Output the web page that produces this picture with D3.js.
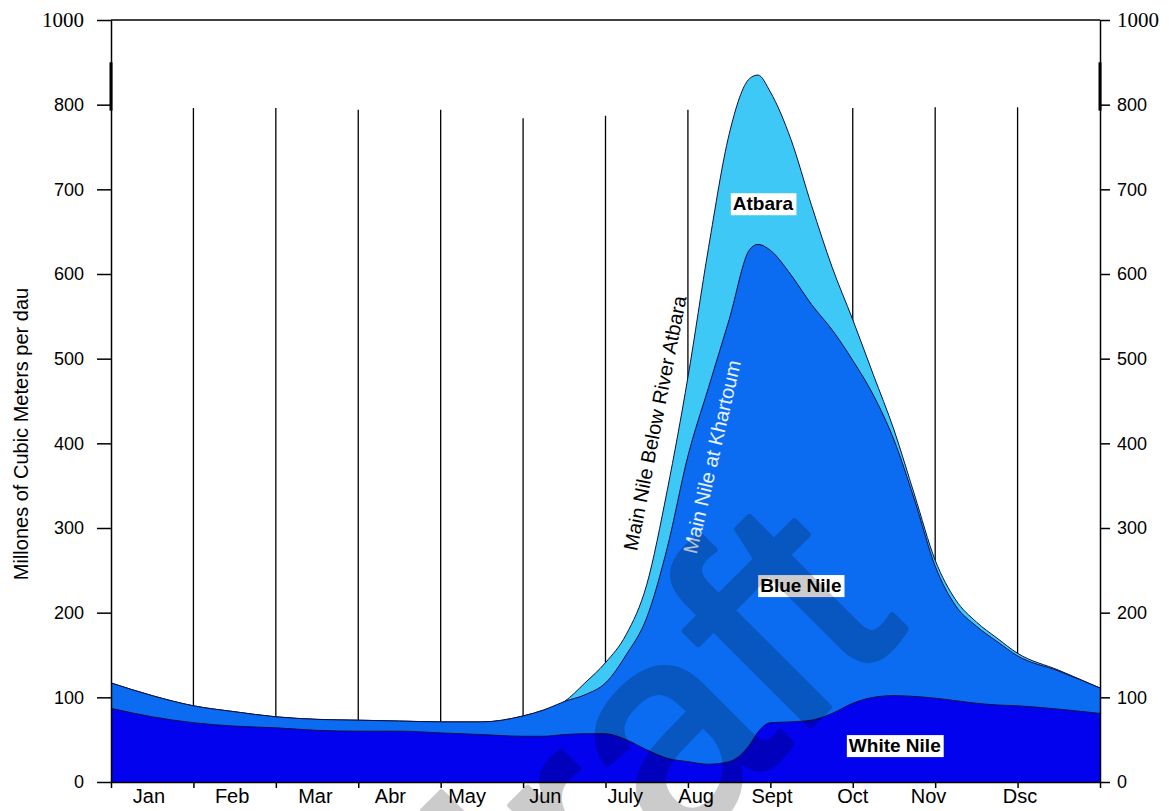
<!DOCTYPE html>
<html>
<head>
<meta charset="utf-8">
<script src="https://cdn.jsdelivr.net/npm/d3@7"></script>
<style>
  body { margin: 0; background: #fff; }
  svg { display: block; font-family: Arial, "Liberation Sans", sans-serif; }
  .serif { font-family: "Liberation Serif", "Times New Roman", serif !important; font-size: 21px !important; }
</style>
</head>
<body>
<svg id="chart"></svg>
<script>
// month names as printed on the chart (spelling kept)
const monthNames = ["Jan", "Feb", "Mar", "Abr", "May", "Jun", "July", "Aug", "Sept", "Oct", "Nov", "Dsc"];
// where each month name sits, in months from 1 Jan
const monthLabelAt = [0.46, 1.47, 2.48, 3.39, 4.32, 5.27, 6.24, 7.10, 8.02, 9.0, 9.92, 11.03];
// top of the vertical month lines (value units)
const gridTop = [796, 796, 794, 794, 784, 787, 794, 794, 796, 797, 797];

// flow, millions of m3 per day
const flowMonth = [0, 0.5, 1, 1.5, 2, 2.5, 3, 3.5, 4, 4.5, 5, 5.25, 5.5, 5.75, 6, 6.25, 6.5, 6.75, 7, 7.25, 7.5, 7.75, 7.85, 8, 8.25, 8.5, 8.75, 9, 9.25, 9.5, 9.75, 10, 10.25, 10.5, 10.75, 11, 11.5, 12];
const belowAtbara = [117, 102, 90, 83, 77, 74, 73, 72, 71, 71, 78, 85, 95, 117, 141, 174, 233, 345, 478, 631, 765, 831, 835, 815, 759, 681, 608, 546, 481, 416, 339, 262, 215, 189, 170, 152, 132, 111];
const atKhartoum = [117, 102, 90, 83, 77, 74, 73, 72, 71, 71, 78, 85, 95, 103, 117, 150, 194, 277, 385, 466, 546, 629, 635, 628, 599, 564, 534, 498, 457, 404, 333, 255, 208, 184, 166, 149, 131, 111];
const whiteNile = [87, 77, 70, 66, 64, 61, 60, 60, 58, 56, 54, 54, 56, 57, 57, 50, 38, 28, 24, 21, 24, 44, 59, 70, 71, 73, 81, 93, 100, 102, 101, 99, 96, 93, 91, 90, 86, 81];

// y ticks: the top line carries the label "1000"
const yTickValues = [0, 100, 200, 300, 400, 500, 600, 700, 800, 900];
const yTickLabels = ["0", "100", "200", "300", "400", "500", "600", "700", "800", "1000"];

const width = 1169;
const height = 811;

const svg = d3.select("#chart")
    .attr("width", width)
    .attr("height", height);

const x = d3.scaleLinear().domain([0, 12]).range([111, 1100]);
const y = d3.scaleLinear().domain([0, 900]).range([782, 20]);

// vertical month lines (behind the flows)
svg.append("g")
    .selectAll("line")
    .data(gridTop)
    .enter().append("line")
    .attr("x1", (d, i) => x(i + 1))
    .attr("x2", (d, i) => x(i + 1))
    .attr("y1", d => y(d))
    .attr("y2", y(0))
    .attr("stroke", "#000")
    .attr("stroke-width", 1.3);

const area = d3.area()
    .x((d, i) => x(flowMonth[i]))
    .y0(y(0))
    .y1(d => y(d))
    .curve(d3.curveMonotoneX);

const topLine = d3.line()
    .x((d, i) => x(flowMonth[i]))
    .y(d => y(d))
    .curve(d3.curveMonotoneX);

const layers = [
    { values: belowAtbara, fill: "#3ec8f6" },
    { values: atKhartoum, fill: "#0b6cf2" },
    { values: whiteNile, fill: "#0202ee" }
];

layers.forEach(l => {
    svg.append("path")
        .datum(l.values)
        .attr("d", area)
        .attr("fill", l.fill);
    svg.append("path")
        .datum(l.values)
        .attr("d", topLine)
        .attr("fill", "none")
        .attr("stroke", "#101040")
        .attr("stroke-width", 1);
});

// axes
const axisLeft = d3.axisLeft(y)
    .tickValues(yTickValues)
    .tickFormat((d, i) => yTickLabels[i])
    .tickSize(14)
    .tickSizeOuter(0)
    .tickPadding(13);

const gL = svg.append("g")
    .attr("transform", `translate(${x(0)},0)`)
    .call(axisLeft);

const axisRight = d3.axisRight(y)
    .tickValues(yTickValues)
    .tickFormat((d, i) => yTickLabels[i])
    .tickSize(10)
    .tickSizeOuter(0)
    .tickPadding(7);

const gR = svg.append("g")
    .attr("transform", `translate(${x(12)},0)`)
    .call(axisRight);

[gL, gR].forEach(g => {
    g.attr("font-family", null).attr("font-size", null);
    g.selectAll("path, line").attr("stroke", "#000").attr("stroke-width", 1.5);
    g.selectAll("text")
        .attr("fill", "#000")
        .style("font-size", "18px");
    g.selectAll("text")
        .filter((d, i, nodes) => i === nodes.length - 1)
        .attr("class", "serif");
});

// heavier stroke on the upper part of both side axes
[x(0), x(12)].forEach(px => {
    svg.append("line")
        .attr("x1", px).attr("x2", px)
        .attr("y1", y(850)).attr("y2", y(793))
        .attr("stroke", "#000")
        .attr("stroke-width", 3);
});

// top line
svg.append("line")
    .attr("x1", x(0)).attr("x2", x(12))
    .attr("y1", y(900)).attr("y2", y(900))
    .attr("stroke", "#000")
    .attr("stroke-width", 1.5);

const axisBottom = d3.axisBottom(x)
    .tickValues(d3.range(0, 13))
    .tickFormat("")
    .tickSize(6)
    .tickSizeOuter(0);

const gB = svg.append("g")
    .attr("transform", `translate(0,${y(0)})`)
    .call(axisBottom);
gB.selectAll("path, line").attr("stroke", "#000").attr("stroke-width", 1.5);

svg.append("g")
    .selectAll("text")
    .data(monthNames)
    .enter().append("text")
    .attr("x", (d, i) => x(monthLabelAt[i]))
    .attr("y", y(0) + 21)
    .attr("text-anchor", "middle")
    .style("font-size", "20px")
    .text(d => d);

// y title
svg.append("text")
    .attr("transform", "translate(21,434) rotate(-90)")
    .attr("text-anchor", "middle")
    .attr("dominant-baseline", "central")
    .style("font-size", "20px")
    .text("Millones of Cubic Meters per dau");

// river labels with white boxes
const boxLabels = [
    { text: "Atbara", m: 7.91, v: 683 },
    { text: "Blue Nile", m: 8.37, v: 232 },
    { text: "White Nile", m: 9.51, v: 43 }
];
boxLabels.forEach(b => {
    const g = svg.append("g");
    const t = g.append("text")
        .attr("x", x(b.m))
        .attr("y", y(b.v))
        .attr("text-anchor", "middle")
        .attr("dominant-baseline", "central")
        .style("font-size", "19px")
        .style("font-weight", "bold")
        .text(b.text);
    const bb = t.node().getBBox();
    g.insert("rect", "text")
        .attr("x", bb.x - 2)
        .attr("y", bb.y)
        .attr("width", bb.width + 5)
        .attr("height", bb.height + 1)
        .attr("fill", "#fff");
});

// slanted curve labels
svg.append("text")
    .attr("transform", `translate(${x(6.60)},${y(424)}) rotate(-79)`)
    .attr("text-anchor", "middle")
    .attr("dominant-baseline", "central")
    .style("font-size", "20px")
    .attr("fill", "#000")
    .text("Main Nile Below River Atbara");

svg.append("text")
    .attr("transform", `translate(${x(7.29)},${y(384)}) rotate(-77)`)
    .attr("text-anchor", "middle")
    .attr("dominant-baseline", "central")
    .style("font-size", "20px")
    .attr("fill", "#e6f2ff")
    .text("Main Nile at Khartoum");

// watermark
svg.append("g")
    .attr("opacity", 0.2)
    .append("text")
    .attr("transform", "translate(908,628) rotate(-45)")
    .attr("text-anchor", "end")
    .style("font-size", "295px")
    .attr("fill", "#000")
    .attr("stroke", "#000")
    .attr("stroke-width", 6)
    .attr("stroke-linejoin", "round")
    .text("draft");
</script>
</body>
</html>
